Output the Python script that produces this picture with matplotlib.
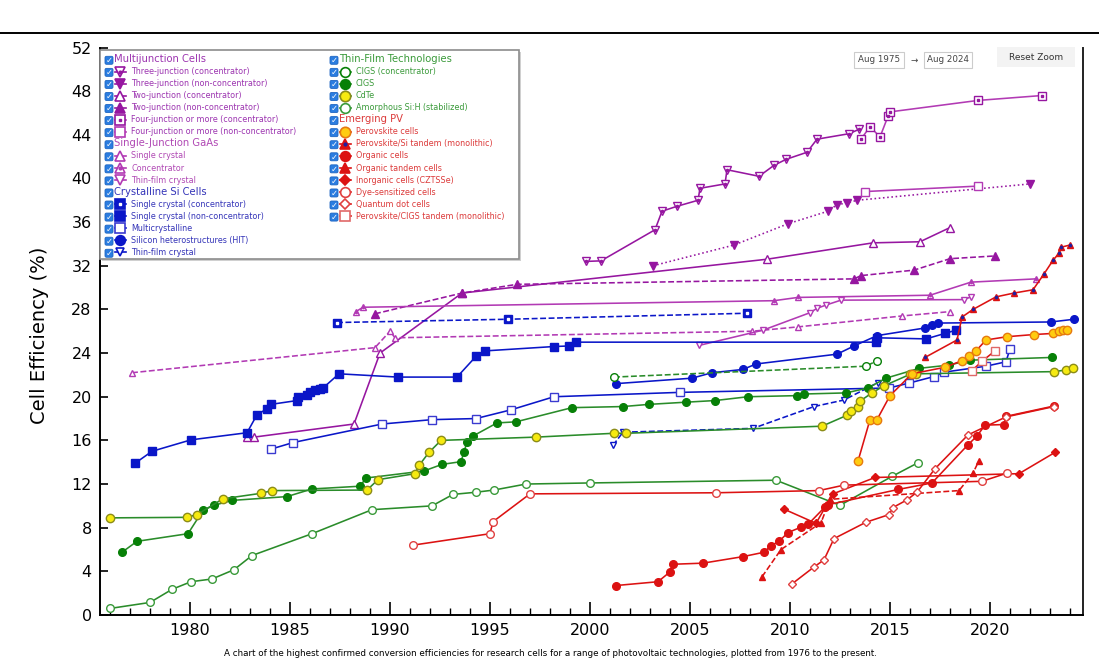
import matplotlib
matplotlib.use('Agg')
import matplotlib.pyplot as plt
from matplotlib.lines import Line2D
from matplotlib.patches import Rectangle, FancyBboxPatch

# ---------------- record cell efficiencies: (year, efficiency %) ----------------
# Multijunction cells
mj3_conc_year = [1999.8, 2000.55, 2003.25, 2003.6, 2004.35, 2005.4, 2005.5, 2006.75, 2006.85,
                 2008.45, 2009.2, 2009.8, 2010.85, 2011.35, 2012.95, 2013.45]
mj3_conc_eff = [32.4, 32.45, 35.3, 37.0, 37.45, 38.0, 39.1, 39.5, 40.8, 40.2, 41.2, 41.75,
                42.4, 43.6, 44.1, 44.5]
mj3_year = [2003.15, 2007.2, 2009.9, 2011.9, 2012.35, 2012.85, 2013.35, 2022.0]
mj3_eff = [32.0, 33.9, 35.85, 37.0, 37.6, 37.75, 38.0, 39.5]
mj2_conc_year = [1982.85, 1983.2, 1988.2, 1989.5, 1993.6, 2008.85, 2014.15, 2016.5, 2018.0]
mj2_conc_eff = [16.3, 16.3, 17.5, 24.0, 29.5, 32.6, 34.1, 34.2, 35.5]
mj2_year = [1989.25, 1993.6, 1996.35, 2013.2, 2013.55, 2016.2, 2018.0, 2020.25]
mj2_eff = [27.6, 29.5, 30.3, 30.8, 31.1, 31.6, 32.65, 32.9]
mj4_conc_year = [2013.55, 2014.0, 2014.5, 2014.9, 2015.0, 2019.4, 2022.6]
mj4_conc_eff = [43.6, 44.75, 43.8, 45.7, 46.1, 47.15, 47.6]
mj4_year = [2013.75, 2019.4]
mj4_eff = [38.8, 39.3]

# Single-junction GaAs
gaas_single_year = [1977.1, 1989.25, 1990.0, 1990.25, 2008.1, 2010.4, 2015.6, 2018.0]
gaas_single_eff = [22.2, 24.5, 26.0, 25.4, 26.0, 26.4, 27.4, 27.8]
gaas_conc_year = [1988.3, 1988.65, 2009.2, 2010.4, 2017.0, 2019.05, 2022.3]
gaas_conc_eff = [27.8, 28.2, 28.8, 29.1, 29.3, 30.5, 30.8]
gaas_thin_year = [2005.45, 2008.65, 2011.0, 2011.35, 2011.8, 2012.55, 2018.7, 2019.05]
gaas_thin_eff = [24.7, 26.1, 27.7, 28.1, 28.4, 28.85, 28.9, 29.15]

# Crystalline Si cells
si_conc_year = [1987.35, 1995.9, 2007.85]
si_conc_eff = [26.8, 27.1, 27.65]
si_single_year = [1977.25, 1978.1, 1980.05, 1982.85, 1983.35, 1983.85, 1984.05, 1985.35, 1985.4,
                  1985.85, 1986.0, 1986.25, 1986.5, 1986.65, 1987.45, 1990.4, 1993.35, 1994.3,
                  1994.75, 1998.2, 1998.95, 1999.3, 2014.3, 2014.35, 2016.8, 2017.75, 2018.3]
si_single_eff = [13.9, 15.0, 16.05, 16.7, 18.35, 18.9, 19.3, 19.65, 20.0, 20.2, 20.4, 20.6, 20.75,
                 20.8, 22.1, 21.8, 21.8, 23.7, 24.2, 24.6, 24.65, 25.0, 25.0, 25.4, 25.3, 25.8, 26.1]
si_multi_year = [1984.05, 1985.15, 1989.6, 1992.1, 1994.3, 1996.05, 1998.2, 2004.5, 2014.95,
                 2015.95, 2017.2, 2017.7, 2019.8, 2020.8, 2021.0]
si_multi_eff = [15.2, 15.8, 17.5, 17.9, 18.0, 18.8, 20.0, 20.4, 20.8, 21.25, 21.85, 22.25, 22.8,
                23.2, 24.4]
si_hit_year = [2001.3, 2005.1, 2006.1, 2007.65, 2008.3, 2012.35, 2013.2, 2014.35, 2016.75,
               2017.1, 2017.4, 2023.05, 2024.2]
si_hit_eff = [21.2, 21.7, 22.2, 22.5, 23.0, 23.9, 24.65, 25.6, 26.3, 26.6, 26.75, 26.85, 27.1]
si_thin_year = [2001.15, 2001.65, 2008.15, 2011.2, 2012.7, 2014.4]
si_thin_eff = [15.55, 16.75, 17.1, 19.1, 19.7, 21.3]

# Thin-film technologies
cigs_conc_year = [2001.2, 2013.8, 2014.35]
cigs_conc_eff = [21.8, 22.8, 23.3]
cigs_year = [1976.6, 1977.35, 1979.9, 1980.65, 1981.2, 1982.1, 1984.85, 1986.1, 1988.5, 1988.8,
             1991.7, 1992.6, 1993.55, 1993.7, 1993.85, 1994.15, 1995.35, 1996.3, 1999.1, 2001.65,
             2002.95, 2004.8, 2006.25, 2007.9, 2010.35, 2010.7, 2012.8, 2013.9, 2014.8, 2016.45,
             2017.95, 2019.0, 2023.1]
cigs_eff = [5.75, 6.75, 7.45, 9.6, 10.05, 10.5, 10.85, 11.55, 11.8, 12.55, 13.2, 13.8, 14.05,
            14.95, 15.85, 16.4, 17.6, 17.7, 19.0, 19.1, 19.3, 19.5, 19.65, 20.0, 20.1, 20.25,
            20.35, 20.8, 21.7, 22.6, 22.9, 23.35, 23.6]
cdte_year = [1976.0, 1979.85, 1980.35, 1981.65, 1983.55, 1984.1, 1988.85, 1989.4, 1991.25,
             1991.45, 1991.95, 1992.55, 1997.3, 2001.2, 2001.8, 2011.6, 2012.85, 2013.05,
             2013.4, 2013.5, 2014.1, 2014.7, 2016.0, 2016.3, 2023.2, 2023.8, 2024.15]
cdte_eff = [8.9, 8.95, 9.2, 10.65, 11.15, 11.4, 11.45, 12.4, 12.95, 13.7, 14.9, 16.0, 16.3,
            16.65, 16.65, 17.3, 18.3, 18.7, 19.1, 19.6, 20.35, 21.0, 22.05, 22.1, 22.3, 22.45,
            22.6]
asi_year = [1976.0, 1978.0, 1979.1, 1980.05, 1981.1, 1982.2, 1983.1, 1986.1, 1989.1, 1992.1,
            1993.15, 1994.3, 1995.2, 1996.8, 2000.0, 2009.3, 2012.5, 2015.1, 2016.4]
asi_eff = [0.6, 1.15, 2.35, 3.05, 3.3, 4.15, 5.45, 7.45, 9.65, 10.0, 11.05, 11.25, 11.45, 12.0,
           12.1, 12.35, 10.05, 12.7, 13.95]

# Emerging PV
pvk_year = [2013.4, 2014.0, 2014.35, 2015.0, 2016.1, 2017.75, 2018.6, 2018.95, 2019.3, 2019.8,
            2020.85, 2022.2, 2023.15, 2023.45, 2023.65, 2023.85]
pvk_eff = [14.1, 17.9, 17.9, 20.1, 22.1, 22.7, 23.3, 23.7, 24.2, 25.2, 25.5, 25.7, 25.8, 26.0,
           26.1, 26.15]
pvk_si_year = [2016.75, 2018.35, 2018.6, 2019.15, 2020.3, 2021.2, 2022.15, 2022.7, 2023.15,
               2023.45, 2023.55, 2024.0]
pvk_si_eff = [23.6, 25.2, 27.3, 28.0, 29.15, 29.5, 29.8, 31.25, 32.5, 33.15, 33.7, 33.9]
organic_year = [2001.3, 2003.4, 2004.0, 2004.15, 2005.65, 2007.65, 2008.7, 2009.05, 2009.45,
                2009.9, 2010.55, 2010.9, 2011.75, 2011.9, 2015.4, 2017.1, 2018.9, 2019.35,
                2019.75, 2020.7, 2020.8, 2023.2]
organic_eff = [2.7, 3.05, 3.95, 4.65, 4.75, 5.35, 5.75, 6.35, 6.75, 7.55, 8.05, 8.3, 9.9, 10.1,
               11.5, 12.1, 15.6, 16.4, 17.4, 17.45, 18.2, 19.15]
org_tandem_year = [2008.6, 2009.55, 2011.55, 2012.0, 2018.45, 2019.15, 2019.45]
org_tandem_eff = [3.5, 6.0, 8.45, 10.6, 11.4, 13.0, 14.15]
czts_year = [2009.7, 2011.3, 2012.15, 2014.25, 2021.45, 2023.25]
czts_eff = [9.7, 8.4, 11.1, 12.6, 12.95, 14.9]
dssc_year = [1991.15, 1995.0, 1995.15, 1997.0, 2006.3, 2011.45, 2012.7, 2019.6, 2020.85]
dssc_eff = [6.4, 7.45, 8.55, 11.1, 11.2, 11.4, 11.9, 12.25, 13.0]
qd_year = [2010.1, 2011.2, 2011.7, 2012.2, 2013.8, 2014.95, 2015.15, 2015.85, 2016.35, 2017.25,
           2018.9, 2020.8, 2023.2]
qd_eff = [2.85, 4.4, 5.05, 7.0, 8.5, 9.2, 9.85, 10.55, 11.25, 13.4, 16.5, 18.15, 19.1]
pvk_cigs_year = [2019.1, 2019.6, 2020.25]
pvk_cigs_eff = [22.4, 23.25, 24.2]

years_ticks = [1980, 1985, 1990, 1995, 2000, 2005, 2010, 2015, 2020]
eff_ticks = list(range(0, 53, 4))

# ---------------- colours / styles ----------------
PURPLE = '#9616a0'
MAGENTA = '#b23ab4'
BLUE = '#0a16c8'
GREEN = '#2a8c2a'
DKGREEN = '#078007'
RED = '#dc1212'
T_PURPLE = '#9c34b0'
T_MAGENTA = '#b048b4'
T_BLUE = '#3434b8'
T_GREEN = '#3a9a3a'
T_RED = '#dc3a3a'

W = 'white'
# label: (years, effs, line colour, marker, face, edge, linestyle, size, inner dot colour)
series = {
    'Three-junction (concentrator)': (mj3_conc_year, mj3_conc_eff, PURPLE, 'v', W, PURPLE, '-', 5.5, PURPLE),
    'Three-junction (non-concentrator)': (mj3_year, mj3_eff, PURPLE, 'v', PURPLE, PURPLE, ':', 5.5, None),
    'Two-junction (concentrator)': (mj2_conc_year, mj2_conc_eff, PURPLE, '^', W, PURPLE, '-', 5.5, None),
    'Two-junction (non-concentrator)': (mj2_year, mj2_eff, PURPLE, '^', PURPLE, PURPLE, '--', 5.5, None),
    'Four-junction or more (concentrator)': (mj4_conc_year, mj4_conc_eff, MAGENTA, 's', W, PURPLE, '-', 5.2, PURPLE),
    'Four-junction or more (non-concentrator)': (mj4_year, mj4_eff, MAGENTA, 's', W, MAGENTA, '-', 6.2, None),
    'Single crystal': (gaas_single_year, gaas_single_eff, MAGENTA, '^', W, MAGENTA, '--', 5, None),
    'Concentrator': (gaas_conc_year, gaas_conc_eff, MAGENTA, '^', W, MAGENTA, '-', 5, MAGENTA),
    'Thin-film crystal': (gaas_thin_year, gaas_thin_eff, MAGENTA, 'v', W, MAGENTA, '-', 5, None),
    'Single crystal (concentrator)': (si_conc_year, si_conc_eff, BLUE, 's', BLUE, BLUE, '--', 5.2, W),
    'Single crystal (non-concentrator)': (si_single_year, si_single_eff, BLUE, 's', BLUE, BLUE, '-', 5.5, None),
    'Multicrystalline': (si_multi_year, si_multi_eff, BLUE, 's', W, '#3a3ad0', '-', 5.8, None),
    'Silicon heterostructures (HIT)': (si_hit_year, si_hit_eff, BLUE, 'o', BLUE, BLUE, '-', 5.5, None),
    'Si thin-film crystal': (si_thin_year, si_thin_eff, BLUE, 'v', W, BLUE, '--', 4.6, None),
    'CIGS (concentrator)': (cigs_conc_year, cigs_conc_eff, GREEN, 'o', W, DKGREEN, '--', 5.5, None),
    'CIGS': (cigs_year, cigs_eff, GREEN, 'o', DKGREEN, DKGREEN, '-', 5.5, None),
    'CdTe': (cdte_year, cdte_eff, GREEN, 'o', '#f6ea10', '#8c8c18', '-', 6, None),
    'Amorphous Si:H (stabilized)': (asi_year, asi_eff, GREEN, 'o', W, '#3a9a3a', '-', 5.5, None),
    'Perovskite cells': (pvk_year, pvk_eff, RED, 'o', '#ffcc10', '#e67a10', '-', 6, None),
    'Perovskite/Si tandem (monolithic)': (pvk_si_year, pvk_si_eff, RED, '^', RED, RED, '-', 5, '#2020a0'),
    'Organic cells': (organic_year, organic_eff, RED, 'o', RED, RED, '-', 5.5, None),
    'Organic tandem cells': (org_tandem_year, org_tandem_eff, RED, '^', RED, RED, '--', 5, None),
    'Inorganic cells (CZTSSe)': (czts_year, czts_eff, RED, 'D', RED, RED, '-', 3.8, None),
    'Dye-sensitized cells': (dssc_year, dssc_eff, RED, 'o', W, '#e04040', '-', 5.5, None),
    'Quantum dot cells': (qd_year, qd_eff, RED, 'D', W, '#e04040', '-', 3.8, None),
    'Perovskite/CIGS tandem (monolithic)': (pvk_cigs_year, pvk_cigs_eff, RED, 's', W, '#e06868', '-', 6, None),
}

plt.rcParams['font.family'] = ['DejaVu Sans']

FW, FH = 1099, 662
fig = plt.figure(figsize=(FW / 100, FH / 100), dpi=100)
ax = fig.add_axes([100 / FW, 1 - 615 / FH, 983 / FW, 567.5 / FH])
ax.set_xlim(1975.5, 2024.65)
ax.set_ylim(0, 52)

for label, (xs, ys, lc, mk, mfc, mec, ls, ms, dot) in series.items():
    ax.plot(xs, ys, color=lc, ls=ls, lw=1.15, marker=mk, ms=ms, mfc=mfc, mec=mec, mew=1.0,
            clip_on=False)
    if dot is not None:
        ax.plot(xs, ys, ls='none', marker='s' if mk == 's' else 'o', ms=1.6, mfc=dot, mec=dot,
                clip_on=False)

ax.set_xticks(years_ticks)
ax.set_xticks(range(1976, 2025), minor=True)
ax.set_yticks(eff_ticks)
ax.tick_params(axis='x', which='major', direction='in', length=9.5, width=1.2, labelsize=11.5, pad=6)
ax.tick_params(axis='x', which='minor', direction='in', length=5, width=1.0)
ax.tick_params(axis='y', which='major', direction='in', length=6, width=1.2, labelsize=11.5, pad=6)
ax.spines['top'].set_visible(False)
for s in ('left', 'bottom', 'right'):
    ax.spines[s].set_linewidth(1.4)
ax.spines['right'].set_color('#222222')

fig.text(40 / FW, 1 - 335 / FH, 'Cell Efficiency (%)', rotation=90, fontsize=14,
         ha='center', va='center')
fig.text(550 / FW, 1 - 654 / FH,
         'A chart of the highest confirmed conversion efficiencies for research cells for a range '
         'of photovoltaic technologies, plotted from 1976 to the present.',
         fontsize=6.3, ha='center', va='center')
fig.add_artist(Line2D([0, 1], [1 - 33 / FH] * 2, color='black', lw=1.4))

# ---------------- overlay in pixel coordinates: legend panel and range widgets ----------------
ov = fig.add_axes([0, 0, 1, 1], zorder=5)
ov.set_xlim(0, FW)
ov.set_ylim(FH, 0)
ov.axis('off')
ov.patch.set_alpha(0)

ov.add_patch(Rectangle((102, 52), 419, 209, fc='#d0d0d0', ec='none'))
ov.add_patch(Rectangle((100, 50), 419, 209, fc='white', ec='#8c8c8c', lw=1.2))

col1 = [
    ('Multijunction Cells', T_PURPLE, None),
    ('Three-junction (concentrator)', T_PURPLE, 'Three-junction (concentrator)'),
    ('Three-junction (non-concentrator)', T_PURPLE, 'Three-junction (non-concentrator)'),
    ('Two-junction (concentrator)', T_PURPLE, 'Two-junction (concentrator)'),
    ('Two-junction (non-concentrator)', T_PURPLE, 'Two-junction (non-concentrator)'),
    ('Four-junction or more (concentrator)', T_PURPLE, 'Four-junction or more (concentrator)'),
    ('Four-junction or more (non-concentrator)', T_PURPLE, 'Four-junction or more (non-concentrator)'),
    ('Single-Junction GaAs', T_MAGENTA, None),
    ('Single crystal', T_MAGENTA, 'Single crystal'),
    ('Concentrator', T_MAGENTA, 'Concentrator'),
    ('Thin-film crystal', T_MAGENTA, 'Thin-film crystal'),
    ('Crystalline Si Cells', T_BLUE, None),
    ('Single crystal (concentrator)', T_BLUE, 'Single crystal (concentrator)'),
    ('Single crystal (non-concentrator)', T_BLUE, 'Single crystal (non-concentrator)'),
    ('Multicrystalline', T_BLUE, 'Multicrystalline'),
    ('Silicon heterostructures (HIT)', T_BLUE, 'Silicon heterostructures (HIT)'),
    ('Thin-film crystal', T_BLUE, 'Si thin-film crystal'),
]
col2 = [
    ('Thin-Film Technologies', T_GREEN, None),
    ('CIGS (concentrator)', T_GREEN, 'CIGS (concentrator)'),
    ('CIGS', T_GREEN, 'CIGS'),
    ('CdTe', T_GREEN, 'CdTe'),
    ('Amorphous Si:H (stabilized)', T_GREEN, 'Amorphous Si:H (stabilized)'),
    ('Emerging PV', T_RED, None),
    ('Perovskite cells', T_RED, 'Perovskite cells'),
    ('Perovskite/Si tandem (monolithic)', T_RED, 'Perovskite/Si tandem (monolithic)'),
    ('Organic cells', T_RED, 'Organic cells'),
    ('Organic tandem cells', T_RED, 'Organic tandem cells'),
    ('Inorganic cells (CZTSSe)', T_RED, 'Inorganic cells (CZTSSe)'),
    ('Dye-sensitized cells', T_RED, 'Dye-sensitized cells'),
    ('Quantum dot cells', T_RED, 'Quantum dot cells'),
    ('Perovskite/CIGS tandem (monolithic)', T_RED, 'Perovskite/CIGS tandem (monolithic)'),
]


def draw_column(rows, x0):
    for i, (text, tcol, key) in enumerate(rows):
        y = 59.5 + 12.06 * i
        ov.add_patch(FancyBboxPatch((x0 - 4, y - 3.2), 8, 8, boxstyle='round,pad=0,rounding_size=1.5',
                                    fc='#2b7de0', ec='#1f66c2', lw=0.6))
        ov.text(x0, y + 1, '\u2713', color='white', fontsize=6, ha='center', va='center',
                fontweight='bold')
        if key is None:
            ov.text(x0 + 5, y - 0.5, text, color=tcol, fontsize=7.2, ha='left', va='center')
            continue
        xs, ys, lc, mk, mfc, mec, ls, ms, dot = series[key]
        ov.plot([x0 + 6, x0 + 17], [y, y], color=lc, lw=1.2)
        ov.plot([x0 + 11], [y], ls='none', marker=mk, ms=ms + 1.5, mfc=mfc, mec=mec, mew=1.2)
        if dot is not None:
            ov.plot([x0 + 11], [y], ls='none', marker='s' if mk == 's' else 'o', ms=2,
                    mfc=dot, mec=dot)
        ov.text(x0 + 22, y, text, color=tcol, fontsize=5.8, ha='left', va='center')


draw_column(col1, 109)
draw_column(col2, 334)

# date range boxes and reset button
ov.add_patch(Rectangle((854, 52), 50, 16, fc='white', ec='#cccccc', lw=0.8))
ov.text(879, 60, 'Aug 1975', fontsize=6.3, color='#444444', ha='center', va='center')
ov.text(914, 60, '\u2192', fontsize=6.3, color='#444444', ha='center', va='center')
ov.add_patch(Rectangle((924, 52), 48, 16, fc='white', ec='#cccccc', lw=0.8))
ov.text(948, 60, 'Aug 2024', fontsize=6.3, color='#444444', ha='center', va='center')
ov.add_patch(Rectangle((997, 47), 78, 20, fc='#f3f3f3', ec='none'))
ov.text(1036, 58, 'Reset Zoom', fontsize=6.5, color='#333333', ha='center', va='center')

fig.savefig('out.png', dpi=100)
